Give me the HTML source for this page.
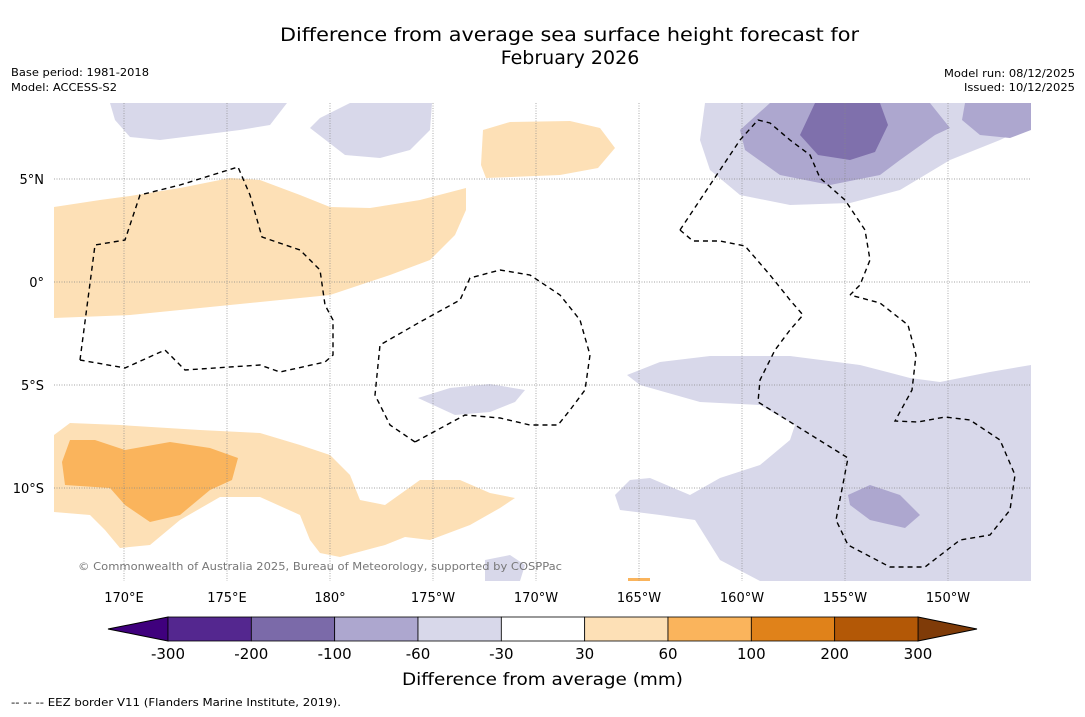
<!DOCTYPE html>
<html><head><meta charset="utf-8"><style>
body{margin:0;background:#fff;font-family:"DejaVu Sans",sans-serif}
svg text{font-family:"DejaVu Sans",sans-serif}
</style></head><body>
<svg width="1085" height="713" viewBox="0 0 1085 713">
<rect width="1085" height="713" fill="#fff"/>
<text x="280" y="41" font-size="19" textLength="579" lengthAdjust="spacingAndGlyphs">Difference from average sea surface height forecast for</text>
<text x="570" y="64" font-size="19" text-anchor="middle">February 2026</text>
<text x="11" y="76" font-size="11" textLength="138" lengthAdjust="spacingAndGlyphs">Base period: 1981-2018</text>
<text x="11" y="91" font-size="11" textLength="106" lengthAdjust="spacingAndGlyphs">Model: ACCESS-S2</text>
<text x="944" y="77" font-size="11" textLength="131" lengthAdjust="spacingAndGlyphs">Model run: 08/12/2025</text>
<text x="964" y="91" font-size="11" textLength="111" lengthAdjust="spacingAndGlyphs">Issued: 10/12/2025</text>
<g id="map">
<clipPath id="cp"><rect x="54" y="103" width="977" height="478"/></clipPath>
<g clip-path="url(#cp)">
<polygon fill="#fde0b6" points="54,207 100,200 130,196 180,188 230,178 260,180 300,195 330,207 370,208 420,200 466,188 466,210 455,235 430,260 390,275 330,295 280,300 230,305 180,310 130,315 54,318"/>
<polygon fill="#fde0b6" points="483,130 510,122 570,121 600,128 615,148 598,168 560,175 486,178 481,165"/>
<polygon fill="#d8d8ea" points="110,103 287,103 270,125 240,130 200,135 160,140 130,137 115,120"/>
<polygon fill="#d8d8ea" points="320,118 350,103 432,103 430,130 410,150 380,158 345,155 310,128"/>
<polygon fill="#d8d8ea" points="705,103 1031,103 1031,125 1000,140 950,160 900,190 850,203 790,205 740,195 710,170 700,140"/>
<polygon fill="#ada7cf" points="770,103 930,103 950,128 935,135 900,160 880,175 830,185 780,175 745,150 740,130"/>
<polygon fill="#7f70ac" points="815,103 880,103 888,125 875,152 850,160 818,155 800,135"/>
<polygon fill="#ada7cf" points="965,103 1031,103 1031,130 1010,138 980,135 962,120"/>
<polygon fill="#d8d8ea" points="627,375 660,362 710,356 790,356 860,365 910,378 940,382 990,372 1031,365 1031,581 760,581 720,560 695,520 660,515 620,510 615,495 630,480 650,478 690,495 720,478 760,465 790,440 795,425 760,405 700,402 640,385"/>
<polygon fill="#ada7cf" points="848,495 870,485 900,495 920,515 905,528 870,520 850,505"/>
<polygon fill="#d8d8ea" points="418,398 450,388 490,384 525,390 515,402 490,412 455,415"/>
<polygon fill="#d8d8ea" points="485,560 510,555 525,565 520,581 485,581"/>
<polygon fill="#fde0b6" points="54,435 70,423 120,425 200,430 260,433 300,445 330,455 350,475 360,500 385,505 420,480 460,480 490,493 515,498 500,508 470,525 430,540 405,537 385,545 340,557 320,553 310,540 300,515 260,497 220,497 180,520 150,545 120,548 105,530 90,515 54,512"/>
<polygon fill="#fab45c" points="70,440 95,440 125,450 170,442 210,448 238,458 232,480 210,490 180,515 150,522 125,505 110,488 65,485 62,462"/>
<rect x="628" y="578" width="22" height="3" fill="#fab45c"/>
</g>
<g id="grid" stroke="#888" stroke-width="0.7" stroke-dasharray="1,1.5" fill="none"></g>
<g fill="none" stroke="#000" stroke-width="1.4" stroke-dasharray="5,4">
<polyline points="80,360 95,245 125,240 140,195 180,185 238,167 250,195 262,237 300,250 320,270 325,305 333,320 333,355 325,362 280,372 260,365 185,370 165,350 125,368 80,360"/>
<polyline points="415,442 390,425 375,395 380,345 420,322 460,300 470,278 500,270 530,275 560,295 580,320 590,355 585,390 570,410 558,425 530,425 500,418 465,415 415,442"/>
<polyline points="680,230 710,185 740,140 758,120 770,123 790,140 810,155 820,178 845,200 865,230 870,260 860,285 850,295"/>
<polyline points="680,230 693,241 720,241 745,246 770,275 790,300 803,315 790,330 775,350 760,380 758,402 795,425 848,458 836,520 848,545 890,567 925,567 960,540 990,535 1010,510 1015,475 1000,440 970,420 945,417 918,422 895,421 912,390 916,355 908,325 880,303 850,295"/>
</g>
<text x="78" y="570" font-size="11" fill="#777" textLength="484" lengthAdjust="spacingAndGlyphs">© Commonwealth of Australia 2025, Bureau of Meteorology, supported by COSPPac</text>
<g id="ticks" font-size="13"></g>
</g>
<g id="cbar"></g>
<text x="402" y="685" font-size="17" textLength="281" lengthAdjust="spacingAndGlyphs">Difference from average (mm)</text>
<text x="11" y="706" font-size="11" textLength="330" lengthAdjust="spacingAndGlyphs">--  --  -- EEZ border V11 (Flanders Marine Institute, 2019).</text>
</svg>
<script>
const lonLabels=["170°E","175°E","180°","175°W","170°W","165°W","160°W","155°W","150°W"];
const lonValues=[170,175,180,185,190,195,200,205,210];
const latLabels=["5°N","0°","5°S","10°S"];
const latValues=[5,0,-5,-10];
const cbarLevels=[-300,-200,-100,-60,-30,30,60,100,200,300];
const cbarColors=["#54278f","#7b6aa9","#ada7cf","#d8d8ea","#ffffff","#fde0b6","#fab45c","#e0821a","#b35806"];
const NS="http://www.w3.org/2000/svg";
const xLon=v=>124+(v-170)*20.6;
const yLat=v=>282-v*20.6;
const grid=document.getElementById('grid'),ticks=document.getElementById('ticks');
lonValues.forEach((v,i)=>{
 const l=document.createElementNS(NS,'line');
 
 
 l.setAttribute('x1',xLon(v));l.setAttribute('x2',xLon(v));l.setAttribute('y1',103);l.setAttribute('y2',581);grid.appendChild(l);
 const t=document.createElementNS(NS,'text');
 
 
 t.setAttribute('x',xLon(v));t.setAttribute('y',602);t.setAttribute('text-anchor','middle');t.textContent=lonLabels[i];ticks.appendChild(t);
});
latValues.forEach((v,i)=>{
 const l=document.createElementNS(NS,'line');
 
 
 l.setAttribute('x1',54);l.setAttribute('x2',1031);l.setAttribute('y1',yLat(v));l.setAttribute('y2',yLat(v));grid.appendChild(l);
 const t=document.createElementNS(NS,'text');
 
 
 t.setAttribute('x',44);t.setAttribute('y',yLat(v)+5);t.setAttribute('text-anchor','end');t.textContent=latLabels[i];ticks.appendChild(t);
});
const cb=document.getElementById('cbar');
const x0=168,x1=918,w=(x1-x0)/cbarColors.length,yT=617,h=24;
const lt=document.createElementNS(NS,'polygon');


lt.setAttribute('points',`${x0},${yT} 108,${yT+h/2} ${x0},${yT+h}`);lt.setAttribute('fill','#3f007d');lt.setAttribute('stroke','#000');cb.appendChild(lt);
const rt=document.createElementNS(NS,'polygon');


rt.setAttribute('points',`${x1},${yT} 977,${yT+h/2} ${x1},${yT+h}`);rt.setAttribute('fill','#7f3b08');rt.setAttribute('stroke','#000');cb.appendChild(rt);
cbarColors.forEach((c,i)=>{
 const r=document.createElementNS(NS,'rect');
 
 
 r.setAttribute('x',x0+i*w);r.setAttribute('y',yT);r.setAttribute('width',w);r.setAttribute('height',h);r.setAttribute('fill',c);r.setAttribute('stroke','#000');r.setAttribute('stroke-width','0.8');cb.appendChild(r);
});
cbarLevels.forEach((v,i)=>{
 const t=document.createElementNS(NS,'text');
 
 
 t.setAttribute('x',x0+i*w);t.setAttribute('y',659);t.setAttribute('text-anchor','middle');t.setAttribute('font-size','15');t.textContent=v;cb.appendChild(t);
});
</script>
</body></html>
